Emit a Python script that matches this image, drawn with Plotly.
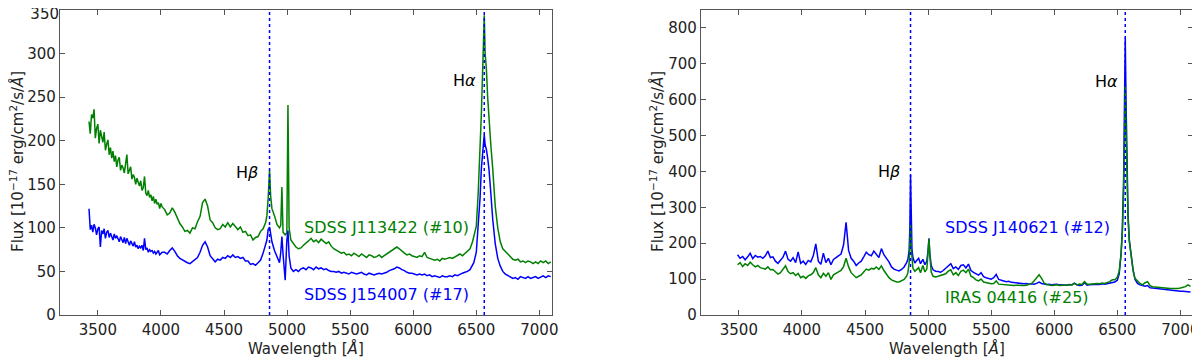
import plotly.graph_objects as go

# ---------------- left panel: SDSS J113422 (#10) / SDSS J154007 (#17) ----------------
wl_left = (list(range(3430, 4011, 10))
           + list(range(4030, 4831, 20))
           + [4840, 4850, 4861, 4870, 4880, 4900, 4920, 4940, 4950, 4959, 4968, 4985, 4998, 5007, 5016, 5030, 5050]
           + list(range(5070, 6471, 20))
           + [6480, 6500, 6515, 6530, 6540, 6550, 6558, 6563, 6570, 6580, 6590, 6600, 6615, 6630, 6650, 6670, 6690]
           + list(range(6710, 7091, 20)))

j113422 = ([222, 208, 230, 226, 236, 203, 214, 219, 197, 212,
            205, 198, 210, 189, 196, 201, 184, 192, 180, 188,
            176, 183, 170, 178, 181, 166, 172, 169, 163, 175,
            184, 162, 166, 170, 156, 161, 158, 150, 157, 151,
            148, 154, 143, 146, 159, 140, 137, 143, 135, 138,
            131, 136, 128, 133, 127, 129, 122, 128, 124]
           + [121, 115, 117, 123, 118, 111, 105, 101, 96, 97,
              94, 100, 99, 107, 113, 129, 133, 125, 109, 106,
              100, 98, 99, 104, 101, 106, 101, 105, 102, 98,
              101, 95, 96, 91, 92, 86, 89, 90, 96, 99,
              106]
           + [114, 134, 166, 136, 122, 114, 104, 100, 103, 147, 95, 92, 94, 241, 100, 86, 82]
           + [78, 76, 77, 80, 82, 85, 88, 84, 86, 83,
              87, 85, 82, 84, 79, 76, 74, 73, 71, 72,
              69, 70, 68, 71, 69, 67, 70, 68, 66, 69,
              68, 66, 67, 69, 66, 68, 70, 71, 73, 75,
              78, 76, 73, 71, 69, 70, 68, 67, 66, 68,
              67, 72, 66, 65, 64, 63, 64, 62, 65, 64,
              65, 66, 65, 67, 68, 70, 68, 71, 73, 76,
              84]
           + [90, 102, 140, 190, 230, 280, 320, 344, 300, 282, 250, 225, 195, 168, 125, 100, 84]
           + [76, 73, 71, 67, 64, 63, 64, 61, 62, 60, 62, 61, 59, 61, 59, 62, 60, 62, 59, 61])

j154007 = ([122, 98, 103, 95, 104, 100, 92, 99, 101, 78,
            97, 93, 99, 88, 95, 97, 89, 94, 90, 86,
            93, 88, 91, 87, 84, 90, 86, 83, 89, 82,
            88, 84, 80, 85, 81, 79, 84, 78, 80, 76,
            79, 77, 80, 74, 88, 75, 77, 72, 75, 73,
            74, 71, 73, 70, 72, 74, 69, 71, 72]
           + [72, 70, 74, 77, 73, 68, 65, 63, 61, 60,
              59, 61, 63, 66, 72, 80, 84, 78, 68, 64,
              61, 64, 63, 66, 65, 68, 66, 69, 66, 67,
              65, 66, 62, 62, 58, 59, 57, 60, 63, 71,
              80]
           + [86, 98, 101, 93, 84, 74, 66, 60, 72, 90, 70, 40, 85, 97, 68, 54, 50]
           + [52, 50, 53, 54, 52, 55, 54, 52, 55, 53,
              54, 52, 53, 51, 50, 50, 49, 50, 48, 49,
              48, 47, 49, 48, 47, 48, 49, 47, 46, 48,
              47, 46, 47, 48, 47, 48, 49, 51, 52, 53,
              55, 54, 52, 51, 49, 48, 48, 47, 46, 47,
              46, 47, 45, 46, 44, 45, 44, 43, 45, 44,
              44, 45, 44, 46, 45, 47, 48, 49, 50, 52,
              57]
           + [60, 72, 100, 135, 168, 185, 200, 207, 195, 190, 180, 168, 140, 110, 82, 65, 56]
           + [50, 47, 45, 43, 42, 43, 41, 44, 43, 42, 44, 42, 43, 44, 42, 44, 45, 43, 45, 44])

# ---------------- right panel: SDSS J140621 (#12) / IRAS 04416 (#25) ----------------
wl_right = (list(range(3490, 4831, 20))
            + [4840, 4850, 4856, 4861, 4866, 4872, 4880, 4895, 4910, 4925, 4940, 4959, 4975, 4990, 5000, 5007, 5014, 5025, 5040, 5060]
            + list(range(5080, 6461, 20))
            + [6480, 6500, 6515, 6530, 6540, 6550, 6557, 6563, 6569, 6576, 6585, 6595, 6610, 6625, 6640, 6660, 6680, 6700]
            + list(range(6720, 7081, 20)))

j140621 = ([168, 158, 163, 154, 162, 172, 157, 166, 161, 163,
            158, 165, 178, 160, 162, 150, 144, 152, 161, 178,
            155, 150, 160, 146, 176, 144, 150, 141, 152, 148,
            165, 198, 150, 141, 172, 146, 158, 140, 155, 160,
            165, 170, 195, 258, 180, 158, 150, 138, 145, 150,
            162, 175, 168, 165, 178, 170, 160, 185, 168, 158,
            148, 134, 128, 125, 123, 127, 134, 146]
           + [155, 180, 250, 390, 260, 185, 160, 145, 152, 158, 143, 155, 140, 150, 180, 214, 170, 138, 126, 122]
           + [121, 119, 124, 131, 137, 143, 129, 134, 127, 138,
              140, 131, 142, 124, 119, 114, 111, 118, 107, 104,
              102, 100, 104, 113, 99, 96, 95, 93, 94, 91,
              90, 89, 90, 88, 87, 88, 86, 87, 86, 88,
              92, 88, 86, 85, 86, 84, 85, 86, 84, 83,
              84, 83, 85, 84, 89, 84, 82, 83, 90, 83,
              84, 85, 84, 86, 85, 87, 86, 88, 89, 91]
           + [92, 97, 115, 170, 240, 380, 600, 772, 600, 400, 280, 210, 165, 125, 100, 88, 84, 81]
           + [80, 82, 76, 75, 74, 73, 72, 71, 70, 70, 69, 68, 68, 67, 66, 66, 65, 64, 64])

iras04416 = ([140, 146, 135, 143, 138, 147, 140, 134, 138, 132,
              130, 128, 134, 126, 127, 121, 114, 118, 126, 137,
              121, 115, 118, 110, 116, 104, 108, 102, 109, 112,
              118, 132, 112, 104, 116, 108, 118, 99, 112, 117,
              120, 124, 135, 158, 134, 118, 112, 104, 108, 112,
              120, 128, 125, 130, 128, 134, 127, 137, 124, 114,
              104, 98, 95, 92, 92, 95, 99, 108]
             + [118, 145, 185, 251, 190, 148, 130, 122, 128, 132, 118, 138, 120, 128, 175, 212, 165, 120, 108, 106]
             + [108, 110, 112, 115, 122, 126, 112, 118, 110, 122,
                125, 118, 128, 108, 104, 98, 95, 100, 92, 90,
                88, 87, 88, 95, 86, 85, 84, 84, 83, 83,
                82, 83, 82, 81, 82, 83, 85, 88, 95, 105,
                112, 102, 89, 85, 83, 82, 83, 84, 82, 82,
                83, 82, 83, 84, 88, 84, 86, 85, 93, 86,
                86, 87, 86, 88, 87, 89, 88, 90, 93, 98]
             + [98, 105, 122, 172, 230, 340, 500, 641, 520, 370, 270, 205, 165, 125, 102, 94, 88, 84]
             + [90, 93, 82, 79, 78, 77, 76, 75, 75, 74, 74, 74, 73, 74, 75, 76, 79, 84, 80])

balmer_lines = [4861, 6563]
x_ticks = [3500, 4000, 4500, 5000, 5500, 6000, 6500, 7000]

GREEN = "#008000"
BLUE = "#0000ff"
FONT = "DejaVu Sans"

fig = go.Figure()
fig.add_trace(go.Scatter(x=wl_left, y=j113422, mode="lines", line=dict(color=GREEN, width=1.5), xaxis="x", yaxis="y"))
fig.add_trace(go.Scatter(x=wl_left, y=j154007, mode="lines", line=dict(color=BLUE, width=1.5), xaxis="x", yaxis="y"))
fig.add_trace(go.Scatter(x=wl_right, y=j140621, mode="lines", line=dict(color=BLUE, width=1.5), xaxis="x2", yaxis="y2"))
fig.add_trace(go.Scatter(x=wl_right, y=iras04416, mode="lines", line=dict(color=GREEN, width=1.5), xaxis="x2", yaxis="y2"))
# empty trace so the overlay axis carrying the top "350" label gets drawn
fig.add_trace(go.Scatter(x=[], y=[], mode="lines", xaxis="x", yaxis="y3", hoverinfo="skip"))

axis_style = dict(showline=True, mirror="ticks", linecolor="#555555", linewidth=1.3,
                  ticks="inside", ticklen=5, tickwidth=1, tickcolor="#555555",
                  showgrid=False, zeroline=False, automargin=False, ticklabeloverflow="allow",
                  tickfont=dict(family=FONT, size=15, color="#222222"))

# the page body has an 8px margin, so the figure is laid out 8px up/left of the window
OFF = 8
W, H = 1200 - OFF, 359 - OFF


def px(x):
    return (x - OFF) / W


def py(y):
    return (H - (y - OFF)) / H


ydom = [py(315), py(10)]
fig.update_layout(
    width=W, height=H, showlegend=False,
    margin=dict(l=0, r=0, t=0, b=0),
    plot_bgcolor="white", paper_bgcolor="white",
    xaxis=dict(domain=[px(60), px(552)], range=[3200, 7100], tickvals=x_ticks, anchor="y",
               ticklabelstandoff=1, **axis_style),
    yaxis=dict(domain=ydom, range=[0, 350], tickvals=list(range(0, 301, 50)), anchor="x", **axis_style),
    # top tick label of the left panel sits at the page edge: nudge it down a little
    yaxis3=dict(domain=ydom, range=[0, 350], tickvals=[350], overlaying="y", anchor="x", side="left",
                ticklabelshift=4, **dict(axis_style, showline=False, mirror=False)),
    xaxis2=dict(domain=[px(701), px(1193)], range=[3200, 7100], tickvals=x_ticks, anchor="y2",
                ticklabelstandoff=1, **axis_style),
    yaxis2=dict(domain=ydom, range=[0, 850], tickvals=list(range(0, 801, 100)), anchor="x2", **axis_style),
)

for xr, yr in (("x", "y domain"), ("x2", "y2 domain")):
    for lam in balmer_lines:
        fig.add_shape(type="line", xref=xr, yref=yr, x0=lam, x1=lam, y0=0, y1=1,
                      line=dict(color=BLUE, width=1.5, dash="dot"))

txt = dict(family=FONT, size=16)
notes = [
    ("x", "y", 4685, 164, "H<i>β</i>", "black", "center"),
    ("x", "y", 6407, 269, "H<i>α</i>", "black", "center"),
    ("x", "y", 5119, 100, "SDSS J113422 (#10)", GREEN, "left"),
    ("x", "y", 5119, 24, "SDSS J154007 (#17)", BLUE, "left"),
    ("x2", "y2", 4687, 401, "H<i>β</i>", "black", "center"),
    ("x2", "y2", 6411, 652, "H<i>α</i>", "black", "center"),
    ("x2", "y2", 5122, 245, "SDSS J140621 (#12)", BLUE, "left"),
    ("x2", "y2", 5122, 50, "IRAS 04416 (#25)", GREEN, "left"),
]
for xr, yr, xv, yv, t, c, anc in notes:
    fig.add_annotation(xref=xr, yref=yr, x=xv, y=yv, text=t, showarrow=False,
                       xanchor=anc, yanchor="middle", font=dict(txt, color=c))

# axis titles
ytitle = "Flux [10<sup>−17</sup> erg/cm<sup>2</sup>/s/<i>Å</i>]"
for xc in (306, 947):
    fig.add_annotation(xref="paper", yref="paper", x=px(xc), y=py(348), text="Wavelength [<i>Å</i>]",
                       showarrow=False, xanchor="center", yanchor="middle",
                       font=dict(family=FONT, size=15, color="#222222"))
for xc in (17, 657):
    fig.add_annotation(xref="paper", yref="paper", x=px(xc), y=py(162), text=ytitle, textangle=-90,
                       showarrow=False, xanchor="center", yanchor="middle",
                       font=dict(family=FONT, size=15, color="#222222"))

fig.write_html("out.html")
